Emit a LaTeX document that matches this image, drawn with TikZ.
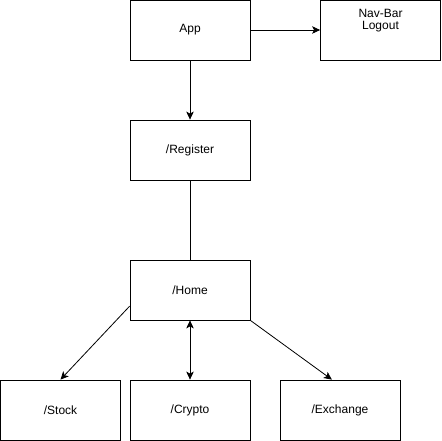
\documentclass[tikz,border=0pt]{standalone}
\usepackage{fontspec}
\setmainfont{Liberation Sans}
\usetikzlibrary{arrows.meta,positioning}
\tikzset{
  lap/.style={draw,line width=0.8pt,minimum width=120pt,minimum height=60pt,inner sep=0pt},
  mutat/.style={line width=0.8pt,-{Stealth[length=8pt,width=7.5pt,inset=2pt]}},
  ketmutat/.style={line width=0.8pt,{Stealth[length=8pt,width=7.5pt,inset=2pt]}-{Stealth[length=8pt,width=7.5pt,inset=2pt]}},
  vonal/.style={line width=0.8pt},
}
\begin{document}
\begin{tikzpicture}[x=1pt,y=-1pt,font=\fontsize{12}{12}\selectfont]
  \useasboundingbox (0,0) rectangle (441,441);
  \node[lap] (app) at (190,30) {App};
  \node[lap] (navbar) at (380.5,30) {};
  \node[align=center,anchor=north,inner sep=0pt] (navtxt) at (380.5,9) {Nav-Bar\\Logout};
  \node[lap] (register) at (190,150) {/Register};
  \node[lap] (home) at (190,290) {/Home};
  \node[lap] (stock) at (60.5,410) {/Stock};
  \node[lap] (crypto) at (190,410) {/Crypto};
  \node[lap] (exchange) at (340,410) {/Exchange};
  \draw[mutat] (app) -- (navbar);
  \draw[mutat] (app) -- (register);
  \draw[vonal] (register) -- (home);
  \draw[mutat] (home.195) -- (stock.north);
  \draw[ketmutat] (home) -- (crypto);
  \draw[mutat] (home.south east) -- (exchange.105);
\end{tikzpicture}
\end{document}
